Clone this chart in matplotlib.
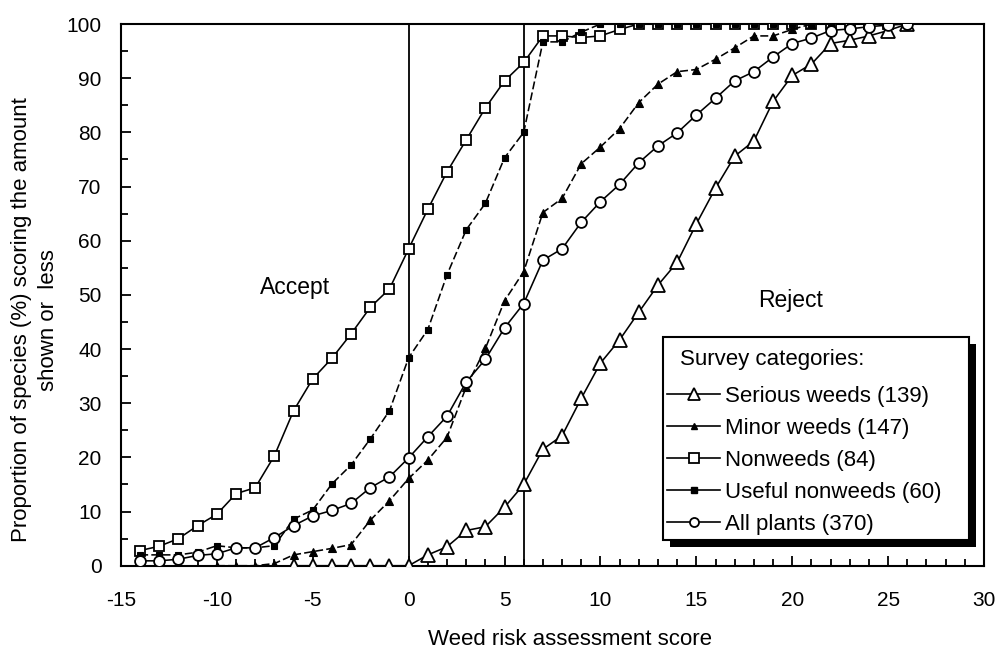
import matplotlib
matplotlib.use("Agg")
import matplotlib.pyplot as plt
from matplotlib.lines import Line2D
from matplotlib.patches import Rectangle
from matplotlib.ticker import MultipleLocator, FuncFormatter
from matplotlib.offsetbox import HPacker, VPacker, DrawingArea

plt.rcParams['font.family'] = ['Liberation Sans', 'DejaVu Sans']

# ---- data ----
serious_x = list(range(-6, 27))
serious_y = [0, 0, 0, 0, 0, 0, 0, 2.0, 3.5, 6.5, 7.2, 10.8, 15.0, 21.5, 24.0, 30.9,
             37.4, 41.7, 46.8, 51.8, 56.0, 63.1, 69.7, 75.6, 78.4, 85.7, 90.5,
             92.6, 96.4, 97.0, 97.8, 98.8, 100]

minor_x = list(range(-10, 27))
minor_y = [0, 0, 0, 0.4, 2.0, 2.6, 3.2, 3.9, 8.4, 12.0, 16.1, 19.5, 23.7, 33.0,
           40.1, 48.9, 54.3, 65.2, 67.8, 74.2, 77.3, 80.7, 85.5, 88.9, 91.2,
           91.6, 93.5, 95.6, 97.8, 97.8, 99.0, 100, 100, 100, 100, 100, 100]

non_x = list(range(-14, 26))
non_y = [2.8, 3.6, 5.0, 7.4, 9.5, 13.3, 14.4, 20.3, 28.6, 34.5, 38.3, 42.8, 47.7,
         51.1, 58.5, 65.8, 72.7, 78.6, 84.5, 89.5, 92.9, 97.8, 97.8, 97.5, 97.8,
         99.0, 100, 100, 100, 100, 100, 100, 100, 100, 100, 100, 100, 100, 100, 100]

useful_x = list(range(-14, 26))
useful_y = [2.0, 2.0, 2.0, 2.5, 3.7, 3.3, 3.3, 3.7, 8.6, 10.3, 15.1, 18.6, 23.4,
            28.6, 38.4, 43.6, 53.7, 62.0, 66.9, 75.3, 80.0, 96.7, 96.7, 98.5,
            100, 100, 100, 100, 100, 100, 100, 100, 100, 100, 100, 100, 100, 100, 100, 100]

all_x = list(range(-14, 27))
all_y = [0.9, 0.9, 1.2, 1.9, 2.2, 3.3, 3.3, 5.2, 7.4, 9.2, 10.2, 11.5, 14.4, 16.4,
         19.9, 23.8, 27.6, 33.9, 38.1, 43.9, 48.4, 56.4, 58.5, 63.4, 67.2, 70.4,
         74.4, 77.5, 79.9, 83.2, 86.3, 89.5, 91.2, 93.9, 96.4, 97.4, 98.8, 99.1,
         99.5, 99.8, 100]

labels = ["Serious weeds (139)", "Minor weeds (147)", "Nonweeds (84)",
          "Useful nonweeds (60)", "All plants (370)"]
thresholds = [0, 6]

fig = plt.figure(figsize=(9.98, 6.54), dpi=100)
ax = fig.add_axes([0.1212, 0.135, 0.8648, 0.8283])

lw = 1.15
dash = (5, 2)
ax.plot(serious_x, serious_y, color='black', lw=lw, marker='^', ms=9.5,
        mfc='white', mec='black', mew=1.3, zorder=3)
ax.plot(minor_x, minor_y, color='black', lw=lw, ls=(0, dash), marker='^', ms=5.5,
        mfc='black', mec='black', mew=0.8, zorder=4)
ax.plot(non_x, non_y, color='black', lw=lw, marker='s', ms=7.5,
        mfc='white', mec='black', mew=1.3, zorder=3)
ax.plot(useful_x, useful_y, color='black', lw=lw, ls=(0, dash), marker='s', ms=4.8,
        mfc='black', mec='black', mew=0.8, zorder=4)
ax.plot(all_x, all_y, color='black', lw=lw, marker='o', ms=7.8,
        mfc='white', mec='black', mew=1.3, zorder=5)

for t in thresholds:
    ax.plot([t, t], [0, 100], color='black', lw=1.3, zorder=2)

ax.set_xlim(-15, 30)
ax.set_ylim(0, 100)
ax.xaxis.set_major_locator(MultipleLocator(5))
ax.xaxis.set_minor_locator(MultipleLocator(1))
ax.yaxis.set_major_locator(MultipleLocator(10))
ax.yaxis.set_minor_locator(MultipleLocator(5))
fmt = FuncFormatter(lambda v, p: "%d" % v)
ax.xaxis.set_major_formatter(fmt)
ax.yaxis.set_major_formatter(fmt)
ax.tick_params(which='both', direction='in', width=1.3, labelsize=15,
               top=False, right=False)
ax.tick_params(which='major', length=7)
ax.tick_params(which='minor', length=5)
ax.tick_params(axis='x', which='major', pad=18)
ax.tick_params(axis='y', which='major', pad=14)
for s in ax.spines.values():
    s.set_linewidth(1.5)

ax.set_xlabel("Weed risk assessment score", fontsize=16)
ax.xaxis.set_label_coords((570 - 121) / 863, (566 - 640) / 541.7)
ax.xaxis.label.set_va('center')
ax.set_ylabel("Proportion of species (%) scoring the amount\nshown or  less",
              fontsize=16, linespacing=1.4)
ax.yaxis.set_label_coords((35 - 121) / 863, (566 - 320) / 541.7)
ax.yaxis.label.set_va('center')

ax.text(-5.9, 51.4, "Accept", fontsize=16.5, ha='center', va='center')
ax.text(19.9, 48.9, "Reject", fontsize=16.5, ha='center', va='center')

handles = [
    Line2D([], [], color='black', lw=1.2, marker='^', ms=8, mfc='white', mec='black', mew=1.3),
    Line2D([], [], color='black', lw=1.2, marker='^', ms=4.5, mfc='black', mec='black'),
    Line2D([], [], color='black', lw=1.2, marker='s', ms=6.5, mfc='white', mec='black', mew=1.3),
    Line2D([], [], color='black', lw=1.2, marker='s', ms=4.5, mfc='black', mec='black'),
    Line2D([], [], color='black', lw=1.2, marker='o', ms=6.5, mfc='white', mec='black', mew=1.3),
]
lx0 = (663 - 121) / 863
lw_ax = (969 - 663) / 863
ltop = (566 - 337) / 541.7
leg = ax.legend(handles, labels, title="Survey categories:", fontsize=16,
                title_fontproperties={'size': 16}, loc='upper left',
                bbox_to_anchor=(lx0, ltop - 0.3, lw_ax, 0.3), mode='expand',
                bbox_transform=ax.transAxes,
                frameon=True, fancybox=False, edgecolor='black', framealpha=1,
                handlelength=2.35, handletextpad=0.25, borderpad=0.2,
                labelspacing=0.5, borderaxespad=0.0, alignment='left')
leg.get_frame().set_linewidth(1.5)
leg.set_zorder(10)
try:
    tb = leg._legend_title_box
    spacer = DrawingArea(9, 1)
    topgap = DrawingArea(1, 6)
    hp = HPacker(pad=0, sep=0, children=[spacer, tb])
    vp = VPacker(pad=0, sep=0, align='left', children=[topgap, hp])
    for o in (spacer, topgap, hp, vp):
        o.set_figure(fig)
    leg._legend_box._children[0] = vp
    leg._legend_box.sep = leg._legend_box.sep + 3
except Exception:
    pass

fig.canvas.draw()
bb = leg.get_window_extent()
shadow = Rectangle((bb.x0 + 7, bb.y0 - 7), bb.width, bb.height,
                   transform=None, facecolor='black', edgecolor='none', zorder=9)
ax.add_artist(shadow)

fig.savefig("out.png", dpi=100)
